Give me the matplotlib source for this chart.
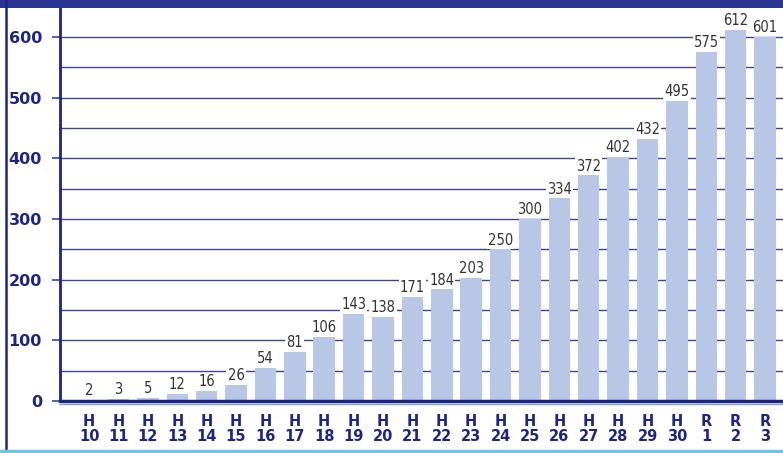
import matplotlib
matplotlib.use("Agg")
import matplotlib.pyplot as plt
from matplotlib.patches import Rectangle
from matplotlib.lines import Line2D

# data
series = ["H"] * 21 + ["R"] * 3
numbers = list(range(10, 31)) + [1, 2, 3]
values = [2, 3, 5, 12, 16, 26, 54, 81, 106, 143, 138, 171, 184,
          203, 250, 300, 334, 372, 402, 432, 495, 575, 612, 601]
yticks = [0, 100, 200, 300, 400, 500, 600]

navy = "#1c2581"
grid_col = "#3d4590"
bar_col = "#b8c7e5"

labels = [f"{s}\n{n}" for s, n in zip(series, numbers)]
x = range(len(values))

fig = plt.figure(figsize=(7.83, 4.53), dpi=100)
ax = fig.add_axes([60 / 783, (453 - 401) / 453, 1 - 60 / 783, (401 - 8) / 453])

ax.set_ylim(0, 648)
ax.set_xlim(-0.99, len(values) - 1 + 0.61)

# gridlines every 50, behind the bars
for g in range(50, 648, 50):
    ax.axhline(g, color=grid_col, lw=1.0, zorder=0)

ax.bar(x, values, width=0.73, color=bar_col, zorder=2)

for xi, v in zip(x, values):
    ax.text(xi, v + 3, str(v), ha="center", va="bottom", fontsize=10.5,
            color="#333333", family="DejaVu Sans", fontstretch="condensed",
            bbox=dict(facecolor="white", edgecolor="none", pad=0.8), zorder=3)

ax.set_yticks(yticks)
ax.set_yticklabels([str(t) for t in yticks], fontsize=11.5, fontweight="bold", color=navy)
ax.tick_params(axis="y", length=6, width=1.2, color=grid_col, pad=7)

ax.set_xticks(list(x))
ax.set_xticklabels(labels, fontsize=10.5, fontweight="bold", color=navy, linespacing=1.05)
ax.tick_params(axis="x", length=0, pad=9)

for side in ["top", "right"]:
    ax.spines[side].set_visible(False)
ax.spines["left"].set_color(navy)
ax.spines["left"].set_linewidth(2)
ax.spines["bottom"].set_color(navy)
ax.spines["bottom"].set_linewidth(2.5)
ax.spines["bottom"].set_zorder(4)

# frame decorations
fig.add_artist(Rectangle((0, (453 - 8) / 453), 1, 8 / 453, transform=fig.transFigure,
                         color="#2a3590", lw=0))
fig.add_artist(Line2D([6 / 783, 6 / 783], [3 / 453, 1], transform=fig.transFigure,
                      color=navy, lw=1.8))
fig.add_artist(Line2D([0, 1], [2 / 453, 2 / 453], transform=fig.transFigure,
                      color="#6cc4ea", lw=2.5))
fig.add_artist(Line2D([60 / 783, 1], [(453 - 404) / 453, (453 - 404) / 453],
                      transform=fig.transFigure, color="#7fa3d8", lw=1))

fig.savefig("out.png", dpi=100)
